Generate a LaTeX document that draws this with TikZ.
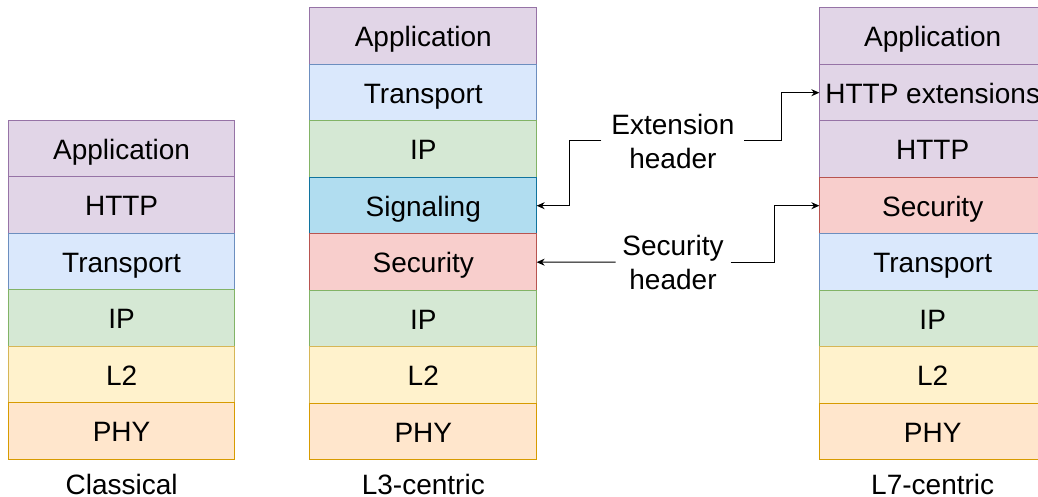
\documentclass[tikz,border=0pt]{standalone}
\usepackage{fontspec}
\setmainfont{Liberation Sans}
\usepackage{tikz}
\usetikzlibrary{positioning,arrows.meta}
\newcommand{\layerWidth}{226.7pt}
\newcommand{\layerHeight}{56.5pt}
\definecolor{appFill}{HTML}{E1D5E7}
\definecolor{appDraw}{HTML}{9673A6}
\definecolor{transpFill}{HTML}{DAE8FC}
\definecolor{transpDraw}{HTML}{6C8EBF}
\definecolor{ipFill}{HTML}{D5E8D4}
\definecolor{ipDraw}{HTML}{82B366}
\definecolor{sigFill}{HTML}{B1DDF0}
\definecolor{sigDraw}{HTML}{10739E}
\definecolor{secFill}{HTML}{F8CECC}
\definecolor{secDraw}{HTML}{B85450}
\definecolor{ltwoFill}{HTML}{FFF2CC}
\definecolor{ltwoDraw}{HTML}{D6B656}
\definecolor{phyFill}{HTML}{FFE6CC}
\definecolor{phyDraw}{HTML}{D79B00}

\begin{document}
\begin{tikzpicture}[x=1pt, y=-1pt, line width=1pt,
		every node/.style={font=\fontsize{28}{34}\selectfont},
		layer/.style={draw, minimum width=\layerWidth, minimum height=\layerHeight, inner sep=0pt, outer sep=0pt, text height=21.5pt, text depth=0pt},
		appLayer/.style={layer, fill=appFill, draw=appDraw},
		transportLayer/.style={layer, fill=transpFill, draw=transpDraw},
		ipLayer/.style={layer, fill=ipFill, draw=ipDraw},
		signalingLayer/.style={layer, fill=sigFill, draw=sigDraw},
		securityLayer/.style={layer, fill=secFill, draw=secDraw},
		linkLayer/.style={layer, fill=ltwoFill, draw=ltwoDraw},
		phyLayer/.style={layer, fill=phyFill, draw=phyDraw},
		caption/.style={inner sep=0pt, text height=21.5pt, text depth=0pt},
		header/.style={align=center, inner sep=0pt, minimum height=54pt},
		hdrArrow/.style={-{Stealth[length=8pt,width=7pt]}, line width=1pt}]
	\useasboundingbox (0,0) rectangle (1038,497);
	%classical
	\node[appLayer] (clApp) at (121.6,148.5) {Application};
	\node[appLayer, below=0pt of clApp] (clHttp) {HTTP};
	\node[transportLayer, below=0pt of clHttp] (clTransport) {Transport};
	\node[ipLayer, below=0pt of clTransport] (clIp) {IP};
	\node[linkLayer, below=0pt of clIp] (clLtwo) {L2};
	\node[phyLayer, below=0pt of clLtwo] (clPhy) {PHY};
	\node[caption, below=13pt of clPhy] (clCaption) {Classical};
	
	%L3-centric
	\node[appLayer] (lthreeApp) at (423.3,36.2) {Application};
	\node[transportLayer, below=0pt of lthreeApp] (lthreeTransport) {Transport};
	\node[ipLayer, below=0pt of lthreeTransport] (lthreeIpUp) {IP};
	\node[signalingLayer, below=0pt of lthreeIpUp] (lthreeSig) {Signaling};
	\node[securityLayer, below=0pt of lthreeSig] (lthreeSec) {Security};
	\node[ipLayer, below=0pt of lthreeSec] (lthreeIp) {IP};
	\node[linkLayer, below=0pt of lthreeIp] (lthreeLtwo) {L2};
	\node[phyLayer, below=0pt of lthreeLtwo] (lthreePhy) {PHY};
	\node[caption, below=13pt of lthreePhy] (lthreeCaption) {L3-centric};
	
	%L7-centric
	\node[appLayer] (lsevenApp) at (932.7,36.2) {Application};
	\node[appLayer, below=0pt of lsevenApp] (lsevenExt) {HTTP extensions};
	\node[appLayer, below=0pt of lsevenExt] (lsevenHttp) {HTTP};
	\node[securityLayer, below=0pt of lsevenHttp] (lsevenSec) {Security};
	\node[transportLayer, below=0pt of lsevenSec] (lsevenTransport) {Transport};
	\node[ipLayer, below=0pt of lsevenTransport] (lsevenIp) {IP};
	\node[linkLayer, below=0pt of lsevenIp] (lsevenLtwo) {L2};
	\node[phyLayer, below=0pt of lsevenLtwo] (lsevenPhy) {PHY};
	\node[caption, below=13pt of lsevenPhy] (lsevenCaption) {L7-centric};
	
	%headers
	\node[header, minimum width=142pt] (extHeader) at (672.9,141) {Extension\\header};
	\node[header, minimum width=114pt] (secHeader) at (673,262) {Security\\header};
	
	\draw[hdrArrow] (extHeader.west) -- ++(-32.4,0) |- (lthreeSig.east);
	\draw[hdrArrow] (extHeader.east) -- ++(37,0) |- (lsevenExt.west);
	\draw[hdrArrow] (secHeader.west) -- (lthreeSec.east);
	\draw[hdrArrow] (secHeader.east) -- ++(44.3,0) |- (lsevenSec.west);
\end{tikzpicture}
\end{document}
